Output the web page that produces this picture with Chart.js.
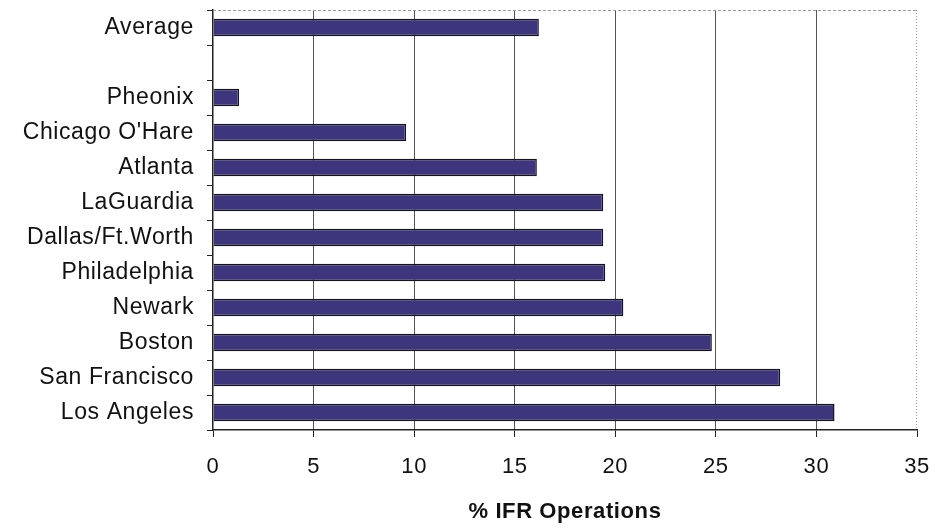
<!DOCTYPE html>
<html>
<head>
<meta charset="utf-8">
<script src="https://cdn.jsdelivr.net/npm/chart.js@4"></script>
<style>
  body { margin: 0; background: #fff; }
  #wrap { width: 935px; height: 529px; }
</style>
</head>
<body>
<div id="wrap"><canvas id="ifrChart" width="935" height="529"></canvas></div>
<script>
const airports = ["Average", "", "Pheonix", "Chicago O'Hare", "Atlanta", "LaGuardia",
  "Dallas/Ft.Worth", "Philadelphia", "Newark", "Boston", "San Francisco", "Los Angeles"];
const ifrPercent = [16.2, null, 1.3, 9.6, 16.1, 19.4, 19.4, 19.5, 20.4, 24.8, 28.2, 30.9];
const xTicks = [0, 5, 10, 15, 20, 25, 30, 35];

// the scanned text is a wide-set Arial, so loosen the letters slightly
// (canvas resize wipes context state, so set it right before layout and draw)
const wideText = {
  id: "wideText",
  beforeLayout(chart) {
    chart.ctx.letterSpacing = "0.6px";
  },
  beforeDraw(chart) {
    chart.ctx.letterSpacing = "0.6px";
  },
};

// dashed top and dotted right edge of the plot frame
const frame = {
  id: "frame",
  afterDraw(chart) {
    const { ctx, chartArea: a } = chart;
    ctx.save();
    ctx.strokeStyle = "#9a9a9a";
    ctx.lineWidth = 1;
    ctx.setLineDash([3, 2]);
    ctx.beginPath();
    ctx.moveTo(a.left, a.top + 0.5);
    ctx.lineTo(a.right, a.top + 0.5);
    ctx.stroke();
    ctx.setLineDash([1, 2]);
    ctx.beginPath();
    ctx.moveTo(a.right - 0.5, a.top);
    ctx.lineTo(a.right - 0.5, a.bottom);
    ctx.stroke();
    ctx.restore();
  },
};

const ctx = document.getElementById("ifrChart");

new Chart(ctx, {
  type: "bar",
  data: {
    labels: airports,
    datasets: [
      {
        label: "% IFR Operations",
        data: ifrPercent,
        backgroundColor: "#3e367d",
        borderColor: "#151515",
        borderWidth: 1.5,
        barPercentage: 0.5,
        categoryPercentage: 1,
      },
    ],
  },
  options: {
    responsive: false,
    animation: false,
    indexAxis: "y",
    layout: { padding: { top: 10, right: 18, left: 0, bottom: 0 } },
    plugins: {
      legend: { display: false },
      tooltip: { enabled: false },
    },
    scales: {
      x: {
        min: 0,
        max: 35,
        afterBuildTicks: (scale) => {
          scale.ticks = xTicks.map((v) => ({ value: v }));
        },
        afterFit: (scale) => {
          scale.height = 99;
          scale.paddingLeft = 0;
          scale.paddingRight = 0;
        },
        border: { color: "#222", width: 1.5 },
        grid: {
          color: (c) => (c.tick && (c.tick.value === 0 || c.tick.value === 35) ? "rgba(0,0,0,0)" : "#555"),
          tickColor: "#222",
          tickLength: 7,
          lineWidth: 1,
        },
        ticks: {
          color: "#111",
          padding: 17,
          font: { family: "Liberation Sans", size: 22 },
        },
        title: {
          display: true,
          text: "% IFR Operations",
          color: "#111",
          padding: { top: 12 },
          font: { family: "Liberation Sans", size: 22, weight: "bold" },
        },
      },
      y: {
        afterFit: (scale) => {
          scale.width = 213;
          scale.paddingTop = 0;
          scale.paddingBottom = 0;
        },
        border: { color: "#222", width: 1.5 },
        grid: {
          offset: true,
          drawOnChartArea: false,
          tickColor: "#222",
          tickLength: 6,
        },
        ticks: {
          color: "#111",
          padding: 13,
          autoSkip: false,
          font: { family: "Liberation Sans", size: 23 },
        },
      },
    },
  },
  plugins: [wideText, frame],
});
</script>
</body>
</html>
